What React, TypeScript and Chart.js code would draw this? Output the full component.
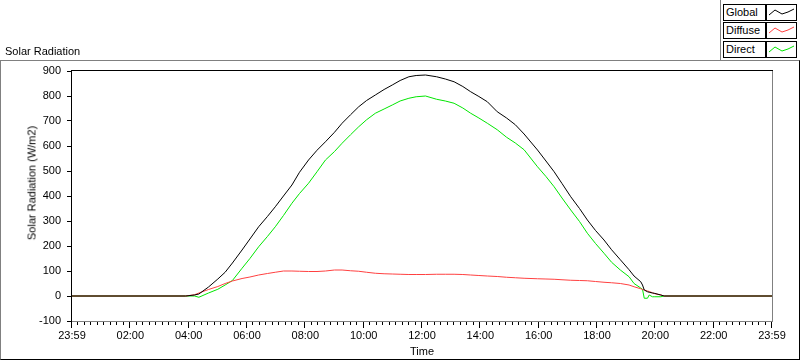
import React, { useEffect, useRef } from "react";
import { Chart, registerables } from "chart.js";

Chart.register(...registerables);

// Hours after the start of the day (0 = 23:59 of the previous day)
const timeHours = [
  0, 3.9, 4.2, 4.35, 4.68, 5.0, 5.25, 5.5, 5.83, 6.1, 6.4, 6.7, 6.97, 7.25, 7.54, 7.8,
  8.11, 8.4, 8.69, 9.0, 9.26, 9.55, 9.83, 10.1, 10.4, 10.7, 10.98, 11.25, 11.55, 11.8,
  12.12, 12.5, 12.8, 13.1, 13.4, 13.67, 13.95, 14.24, 14.58, 14.9, 15.2, 15.5, 15.96,
  16.25, 16.53, 16.8, 17.1, 17.4, 17.67, 17.95, 18.24, 18.5, 18.8, 19.1, 19.27, 19.5,
  19.56, 19.62, 19.73, 19.79, 19.9, 19.96, 20.19, 20.3, 24,
];

const globalValues = [
  0, 0, 4, 8, 36, 68, 95, 132, 184, 228, 277, 318, 357, 400, 444, 495,
  544, 583, 617, 655, 691, 725, 757, 782, 804, 826, 844, 862, 877, 882,
  884, 877, 868, 857, 838, 817, 798, 777, 737, 712, 685, 648, 584,
  540, 497, 450, 397, 350, 304, 262, 224, 185, 145, 105, 80, 57,
  44, 24, 17, 15, 12, 11, 4, 0, 0,
];

const diffuseValues = [
  0, 0, 5, 12, 26, 38, 50, 60, 70, 76, 84, 90, 95, 100, 100, 99,
  98, 98, 100, 104, 104, 101, 99, 95, 91, 89, 88, 87, 86, 86,
  86, 87, 87, 87, 86, 84, 82, 80, 78, 75, 73, 71, 69,
  68, 67, 65, 63, 62, 61, 58, 55, 53, 50, 44, 37, 29,
  26, 24, 20, 18, 13, 10, 4, 0, 0,
];

const directValues = [
  0, 0, 0, -5, 12, 27, 44, 62, 111, 150, 197, 238, 277, 322, 371, 410,
  451, 497, 544, 578, 611, 645, 677, 705, 731, 748, 764, 780, 791, 797,
  800, 787, 780, 771, 752, 731, 712, 691, 665, 635, 612, 585, 517,
  478, 437, 392, 344, 298, 251, 210, 171, 135, 104, 77, 50, 32,
  27, -9, -9, 4, -3, -3, -3, 0, 0,
];

const xTickHours = [0, 2, 4, 6, 8, 10, 12, 14, 16, 18, 20, 22, 24];
const xTickLabels = [
  "23:59", "02:00", "04:00", "06:00", "08:00", "10:00", "12:00",
  "14:00", "16:00", "18:00", "20:00", "22:00", "23:59",
];
const minorPerMajor = 9;
const yMin = -100;
const yMax = 900;
const yStep = 100;

const seriesNames = ["Global", "Diffuse", "Direct"];
const seriesColors = ["#000000", "#ff4040", "#00e600"];

const FONT = "'Liberation Sans', Arial, sans-serif";

const framePlugin = {
  id: "labviewFrame",
  afterDraw(chart: any) {
    const { ctx, chartArea: a, scales } = chart;
    const xs = scales.x;
    ctx.save();
    ctx.lineWidth = 1;
    // x tick marks (major + minor)
    ctx.strokeStyle = "#000";
    ctx.beginPath();
    for (let i = 0; i < xTickHours.length; i++) {
      const px = Math.round(xs.getPixelForValue(xTickHours[i])) - 0.5;
      ctx.moveTo(px, a.bottom);
      ctx.lineTo(px, a.bottom + 7);
      if (i < xTickHours.length - 1) {
        for (let k = 1; k < minorPerMajor; k++) {
          const v = xTickHours[i] + ((xTickHours[i + 1] - xTickHours[i]) * k) / minorPerMajor;
          const p = Math.round(xs.getPixelForValue(v)) - 0.5;
          ctx.moveTo(p, a.bottom);
          ctx.lineTo(p, a.bottom + 4);
        }
      }
    }
    ctx.stroke();
    // gray right & bottom borders
    ctx.strokeStyle = "#808080";
    ctx.beginPath();
    ctx.moveTo(a.right + 0.5, a.top - 1);
    ctx.lineTo(a.right + 0.5, a.bottom + 1);
    ctx.moveTo(a.left - 1, a.bottom + 0.5);
    ctx.lineTo(a.right + 1, a.bottom + 0.5);
    ctx.stroke();
    // black left & top borders
    ctx.strokeStyle = "#000";
    ctx.beginPath();
    ctx.moveTo(a.left - 0.5, a.top - 1);
    ctx.lineTo(a.left - 0.5, a.bottom + 1);
    ctx.moveTo(a.left - 1, a.top - 0.5);
    ctx.lineTo(a.right + 1, a.top - 0.5);
    ctx.stroke();
    ctx.restore();
  },
};

function Swatch({ color }: { color: string }) {
  return (
    <svg width={29} height={15} style={{ display: "block" }}>
      <polyline
        points="2,10 8,5 15,9 21,7 27,4"
        fill="none"
        stroke={color}
        strokeWidth={1}
      />
    </svg>
  );
}

export default function App() {
  const canvasRef = useRef<HTMLCanvasElement | null>(null);

  useEffect(() => {
    const canvas = canvasRef.current;
    if (!canvas) return;
    const valueSets = [globalValues, diffuseValues, directValues];
    const chart = new Chart(canvas, {
      type: "line",
      data: {
        labels: timeHours,
        datasets: valueSets.map((vals, i) => ({
          label: seriesNames[i],
          data: timeHours.map((t, j) => ({ x: t, y: vals[j] })),
          borderColor: seriesColors[i],
          backgroundColor: seriesColors[i],
          borderWidth: 1,
          pointRadius: 0,
          tension: 0,
          fill: false,
        })),
      },
      options: {
        animation: false,
        responsive: false,
        maintainAspectRatio: false,
        layout: { padding: { top: 71, right: 28, left: 0, bottom: 0 } },
        plugins: {
          legend: { display: false },
          tooltip: { enabled: false },
        },
        scales: {
          x: {
            type: "linear",
            min: 0,
            max: 24,
            afterFit: (s: any) => {
              s.height = 40;
            },
            afterBuildTicks: (s: any) => {
              s.ticks = xTickHours.map((v) => ({ value: v }));
            },
            ticks: {
              autoSkip: false,
              maxRotation: 0,
              minRotation: 0,
              padding: 8,
              color: "#000",
              font: { family: FONT, size: 11 },
              callback: (_v: any, i: number) => xTickLabels[i],
            },
            grid: { display: false, drawTicks: false },
            border: { display: false },
            title: {
              display: true,
              text: "Time",
              color: "#000",
              font: { family: FONT, size: 11 },
              padding: { top: 0, bottom: 2 },
            },
          },
          y: {
            min: yMin,
            max: yMax,
            afterFit: (s: any) => {
              s.width = 72;
            },
            ticks: {
              stepSize: yStep,
              padding: 6,
              color: "#000",
              font: { family: FONT, size: 11 },
            },
            grid: {
              display: true,
              drawOnChartArea: false,
              drawTicks: true,
              tickLength: 5,
              color: "#000",
            },
            border: { display: false },
          },
        },
      },
      plugins: [framePlugin],
    } as any);
    return () => chart.destroy();
  }, []);

  const txt: React.CSSProperties = {
    position: "absolute",
    fontFamily: FONT,
    fontSize: 11,
    color: "#000",
    whiteSpace: "nowrap",
    lineHeight: "13px",
  };

  return (
    <div
      style={{
        position: "absolute",
        left: 0,
        top: 0,
        width: 800,
        height: 361,
        background: "#fff",
        overflow: "hidden",
      }}
    >
      {/* outer frame */}
      <div
        style={{
          position: "absolute",
          left: 0,
          top: 60,
          width: 798,
          height: 298,
          borderTop: "1px solid #808080",
          borderLeft: "1px solid #808080",
          borderRight: "1px solid #000",
          borderBottom: "1px solid #000",
        }}
      />
      {/* legend frame */}
      <div
        style={{
          position: "absolute",
          left: 720,
          top: 0,
          width: 80,
          height: 60,
          borderLeft: "1px solid #808080",
        }}
      />
      <canvas
        ref={canvasRef}
        width={800}
        height={361}
        style={{ position: "absolute", left: 0, top: 0, width: 800, height: 361 }}
      />
      <div style={{ ...txt, left: 5, top: 45 }}>Solar Radiation</div>
      <div
        style={{
          ...txt,
          left: 32,
          top: 183,
          transform: "translate(-50%, -50%) rotate(-90deg)",
        }}
      >
        Solar Radiation (W/m2)
      </div>
      {seriesNames.map((name, i) => {
        const top = [4, 22, 41][i];
        return (
          <React.Fragment key={name}>
            <div
              style={{
                position: "absolute",
                left: 723,
                top,
                width: 39,
                height: 15,
                border: "1px solid #000",
                background: "#fff",
                fontFamily: FONT,
                fontSize: 11,
                lineHeight: "15px",
                paddingLeft: 2,
                boxSizing: "content-box",
                whiteSpace: "nowrap",
              }}
            >
              {name}
            </div>
            <div
              style={{
                position: "absolute",
                left: 766,
                top,
                width: 29,
                height: 15,
                border: "1px solid #000",
                background: "#fff",
              }}
            >
              <Swatch color={seriesColors[i]} />
            </div>
          </React.Fragment>
        );
      })}
    </div>
  );
}
